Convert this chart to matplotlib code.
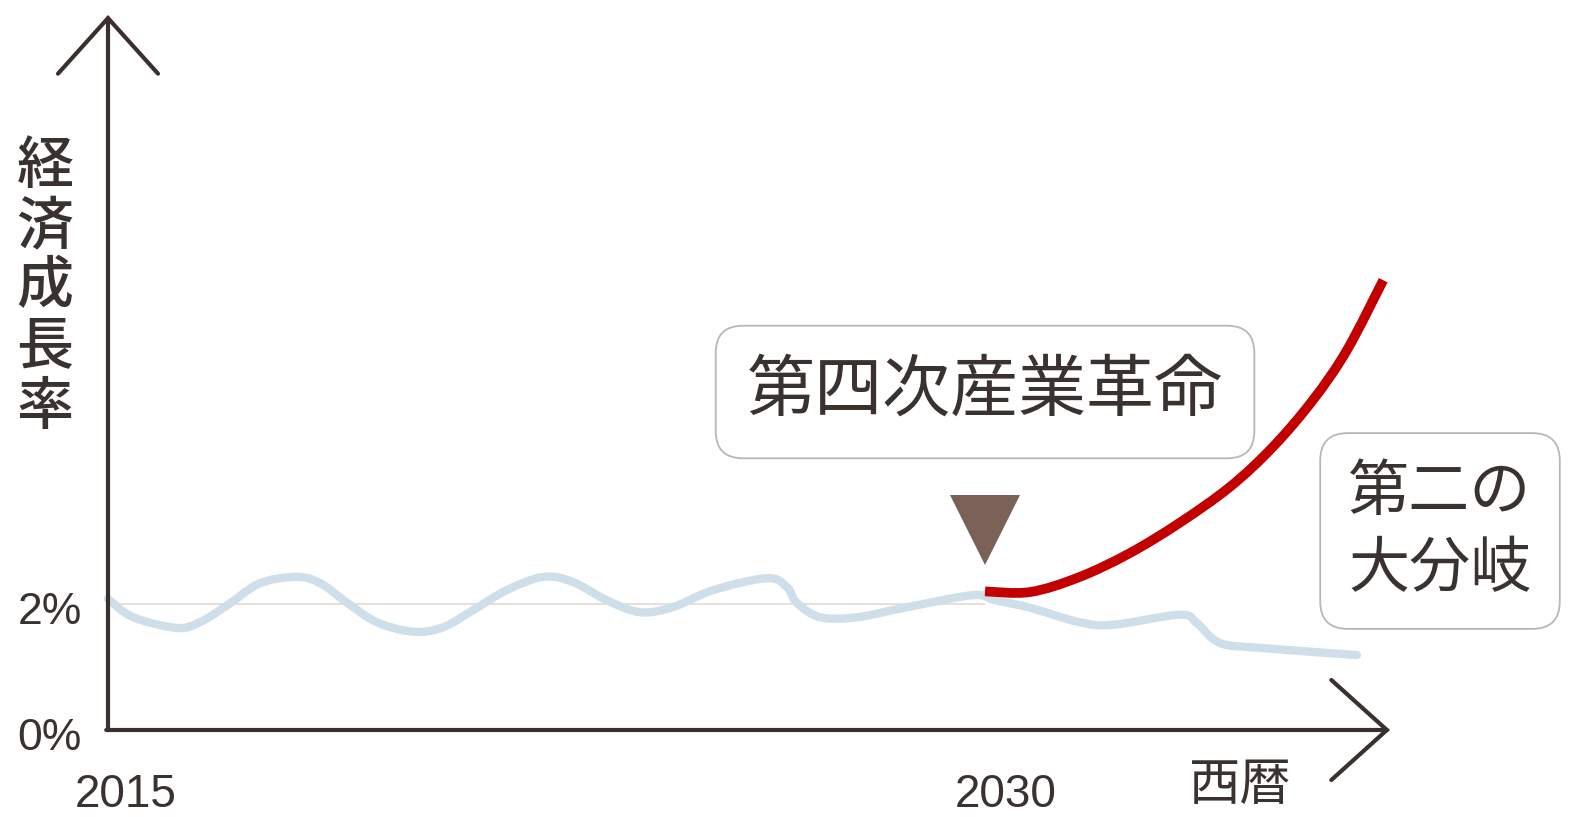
import matplotlib
matplotlib.use("Agg")
import matplotlib.pyplot as plt
import numpy as np
from matplotlib.path import Path
from matplotlib.patches import PathPatch

# ---- data (year, growth rate in %) ----
base_years = [2015.0, 2015.43, 2016.18, 2016.57, 2017.04, 2017.60, 2018.23, 2018.63,
              2019.09, 2019.60, 2020.22, 2020.73, 2021.24, 2021.82, 2022.44, 2022.95,
              2023.53, 2024.10, 2024.66, 2025.35, 2026.27, 2026.61, 2026.78, 2027.18,
              2027.81, 2028.67, 2029.79, 2030.17, 2030.77, 2031.62, 2032.19, 2033.33,
              2033.62, 2034.02, 2034.75, 2036.36]
base_rate = [2.08, 1.79, 1.62, 1.71, 1.98, 2.33, 2.43, 2.33,
             2.02, 1.71, 1.56, 1.63, 1.90, 2.22, 2.43, 2.35,
             2.06, 1.87, 1.95, 2.22, 2.41, 2.27, 2.02, 1.79,
             1.79, 1.95, 2.14, 2.06, 1.94, 1.71, 1.67, 1.83,
             1.70, 1.38, 1.30, 1.19]

boom_years = [2030.0, 2030.77, 2031.62, 2032.48, 2033.33, 2034.19, 2034.92, 2035.61,
              2036.19, 2036.81]
boom_rate = [2.20, 2.19, 2.43, 2.81, 3.29, 3.86, 4.49, 5.24, 6.03, 7.14]

ref_rate = 2.0
ref_span = [2015, 2030]
turn_year = 2030
turn_mark = 3.17

x_ticks = [2015, 2030]
x_tick_labels = ["2015", "2030"]
y_ticks = [2, 0]
y_tick_labels = ["2%", "0%"]

ylabel = "経済成長率"
xlabel = "西暦"
box_main = "第四次産業革命"
box_side = "第二の\n大分岐"

# ---- styling ----
CJK = ["Noto Sans CJK JP", "DejaVu Sans"]
LATIN = ["Liberation Sans", "DejaVu Sans"]
INK = "#3a322f"
AXIS = "#3b302d"


def smooth_path(xs, ys):
    # draw the read points as one smooth curve (Catmull-Rom as cubic Beziers)
    pts = np.column_stack([xs, ys])
    verts = [pts[0]]
    codes = [Path.MOVETO]
    n = len(pts)
    for i in range(n - 1):
        p0 = pts[max(i - 1, 0)]
        p1 = pts[i]
        p2 = pts[i + 1]
        p3 = pts[min(i + 2, n - 1)]
        verts += [p1 + (p2 - p0) / 6, p2 - (p3 - p1) / 6, p2]
        codes += [Path.CURVE4] * 3
    return Path(verts, codes)


fig = plt.figure(figsize=(15.69, 8.17), dpi=100)
ax = fig.add_axes([0, 0, 1, 1])
ax.axis("off")

# pixel-matched scales: 2015 at px 108, 58.47 px per year; 0% at px 730, 63 px per %
px_year, px_pct = 58.47, 63.0
ax.set_xlim(2015 - 108 / px_year, 2015 + (1569 - 108) / px_year)
ax.set_ylim(-(817 - 730) / px_pct, 730 / px_pct)

x_end = 2015 + (1390 - 108) / px_year
y_end = (730 - 15) / px_pct

# axes with open arrow heads
arrow = dict(arrowstyle="->,head_length=2.0,head_width=1.8", lw=3.0, color=AXIS,
             mutation_scale=20, shrinkA=0, shrinkB=0, capstyle="round", joinstyle="miter")
ax.annotate("", xy=(2015, y_end), xytext=(2015, 0), arrowprops=arrow)
ax.annotate("", xy=(x_end, 0), xytext=(2015 - 0.03, 0), arrowprops=arrow)

# 2% reference line
ax.hlines(ref_rate, ref_span[0], ref_span[1], color="#e6dcd4", lw=1.3, zorder=1)

# series
ax.add_patch(PathPatch(smooth_path(base_years, base_rate), fill=False, ec="#cfdfea",
                       lw=6, capstyle="round", joinstyle="round", zorder=2))
ax.add_patch(PathPatch(smooth_path(boom_years, boom_rate), fill=False, ec="#c20000",
                       lw=7, capstyle="butt", joinstyle="round", zorder=3))
ax.plot([turn_year], [turn_mark], marker="v", markersize=50, color="#7a6259",
        markeredgewidth=0, zorder=4)

# tick labels
x_nudge = {2015: 0.3, 2030: 0.35}
for yr, lab in zip(x_ticks, x_tick_labels):
    ax.text(yr + x_nudge[yr], -1.03, lab, ha="center", va="center", fontsize=33,
            family=LATIN, color=INK)
for v, lab in zip(y_ticks, y_tick_labels):
    ax.text(2014.0, v - 0.13, lab, ha="center", va="center", fontsize=32,
            family=LATIN, color=INK)

# axis titles
ax.text(2013.92, 7.03, "\n".join(ylabel), ha="center", va="center", fontsize=41,
        family=CJK, weight="medium", color=INK, linespacing=1.05)
ax.text(2015 + (1240 - 108) / px_year, (730 - 785) / px_pct, xlabel, ha="center",
        va="center", fontsize=37, family=CJK, color=INK)

# callout boxes
ax.text(2030, (730 - 392) / px_pct, box_main, ha="center", va="center", fontsize=49,
        family=CJK, color=INK,
        bbox=dict(boxstyle="round,pad=0.46,rounding_size=0.4", fc="white",
                  ec="#bdb5b0", lw=1.3))
ax.text(2015 + (1440 - 108) / px_year, (730 - 531) / px_pct, box_side, ha="center",
        va="center", fontsize=44, family=CJK, color=INK, linespacing=1.3,
        bbox=dict(boxstyle="round,pad=0.46,rounding_size=0.45", fc="white",
                  ec="#bdb5b0", lw=1.3))

fig.savefig("out.png", dpi=100, facecolor="white")
